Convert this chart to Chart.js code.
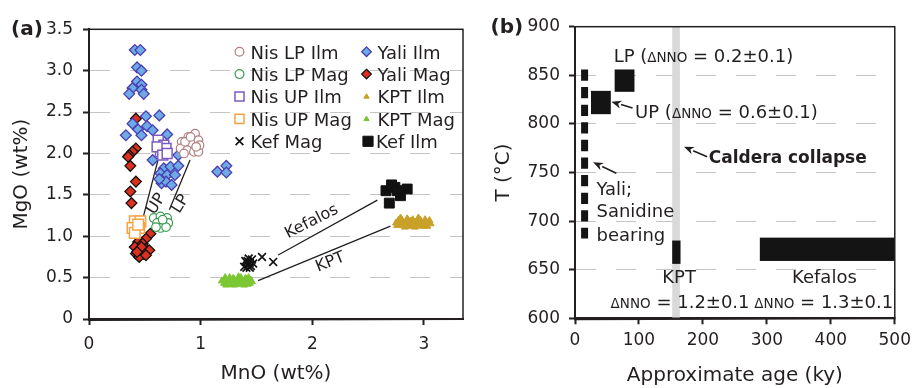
<!DOCTYPE html>
<html>
<head>
<meta charset="utf-8">
<script src="https://cdn.jsdelivr.net/npm/chart.js@4.4.0/dist/chart.umd.min.js"></script>
<style>
  body { margin: 0; background: #fff; }
  #wrap { position: relative; width: 917px; height: 388px; overflow: hidden; }
  canvas { position: absolute; top: 0; }
  #chartA { left: 0; }
  #chartB { left: 470px; }
</style>
</head>
<body>
<div id="wrap">
  <canvas id="chartA" width="472" height="388"></canvas>
  <canvas id="chartB" width="447" height="388"></canvas>
</div>
<script>
// ---------- panel (a): MnO vs MgO (wt%) ----------
const aXTicks = [0, 1, 2, 3];
const aYTicks = [0, 0.5, 1, 1.5, 2, 2.5, 3, 3.5];

const nisLpIlmMnO = [0.95, 0.89, 0.83, 0.92, 0.98, 0.82, 0.88, 0.94, 0.98, 0.99, 0.85, 0.86, 0.91, 0.96];
const nisLpIlmMgO = [2.24, 2.20, 2.14, 2.12, 2.16, 2.06, 2.04, 2.02, 2.02, 2.10, 2.00, 2.14, 2.20, 2.08];

const nisLpMagMnO = [0.58, 0.64, 0.70, 0.61, 0.67, 0.71, 0.64, 0.60, 0.69, 0.66];
const nisLpMagMgO = [1.22, 1.24, 1.22, 1.16, 1.16, 1.16, 1.10, 1.11, 1.11, 1.20];

const nisUpIlmMnO = [0.62, 0.67, 0.64, 0.69, 0.61, 0.66, 0.70];
const nisUpIlmMgO = [2.16, 2.10, 2.02, 2.06, 2.08, 1.98, 2.00];

const nisUpMagMnO = [0.41, 0.46, 0.39, 0.45, 0.41, 0.44];
const nisUpMagMgO = [1.18, 1.18, 1.10, 1.10, 1.04, 1.14];

const kefMagMnO = [1.40, 1.42, 1.44, 1.46, 1.41, 1.45, 1.43, 1.47, 1.39, 1.42, 1.44, 1.55, 1.65];
const kefMagMgO = [0.70, 0.66, 0.68, 0.72, 0.62, 0.64, 0.73, 0.67, 0.63, 0.70, 0.62, 0.75, 0.69];

const yaliIlmMnO = [0.41, 0.46, 0.43, 0.47, 0.43, 0.47, 0.39, 0.36, 0.47, 0.49,
  0.51, 0.63, 0.39, 0.44, 0.52, 0.57, 0.33, 0.47, 0.70,
  0.57, 0.80, 0.67, 0.73, 0.80, 0.64, 0.70, 0.77, 0.65, 0.69, 0.74, 0.63,
  1.15, 1.23, 1.23];
const yaliIlmMgO = [3.25, 3.25, 3.04, 3.00, 2.87, 2.83, 2.79, 2.72, 2.77, 2.72,
  2.45, 2.46, 2.36, 2.29, 2.33, 2.28, 2.22, 2.22, 2.23,
  1.92, 1.98, 1.82, 1.84, 1.85, 1.76, 1.74, 1.74, 1.64, 1.66, 1.62, 1.69,
  1.78, 1.85, 1.77];

const yaliMagMnO = [0.42, 0.42, 0.39, 0.36, 0.35, 0.37, 0.42, 0.37, 0.38,
  0.55, 0.51, 0.44, 0.48, 0.41, 0.51, 0.45, 0.54, 0.42, 0.49, 0.45, 0.51, 0.47, 0.43];
const yaliMagMgO = [2.42, 2.06, 2.02, 1.98, 1.96, 1.85, 1.66, 1.54, 1.40,
  1.03, 0.97, 0.93, 0.91, 0.87, 0.85, 0.83, 0.83, 0.79, 0.79, 0.75, 0.77, 0.87, 0.81];

const kptIlmMnO = [2.75, 2.77, 2.78, 2.80, 2.81, 2.82, 2.84, 2.85, 2.86, 2.87, 2.88, 2.90, 2.91, 2.92,
  2.93, 2.95, 2.96, 2.97, 2.98, 3.00, 3.01, 3.02, 3.03, 3.04, 3.06, 2.79, 2.83, 2.89, 2.94,
  2.99, 3.05, 2.76, 2.86, 2.92, 2.97, 3.02];
const kptIlmMgO = [1.16, 1.19, 1.14, 1.20, 1.17, 1.13, 1.18, 1.21, 1.15, 1.12, 1.18, 1.20, 1.15,
  1.14, 1.17, 1.22, 1.13, 1.19, 1.16, 1.15, 1.20, 1.17, 1.12, 1.17, 1.15, 1.22, 1.11, 1.14,
  1.19, 1.12, 1.19, 1.13, 1.19, 1.11, 1.14, 1.14];

const kptMagMnO = [1.19, 1.21, 1.22, 1.24, 1.25, 1.27, 1.28, 1.29, 1.31, 1.32, 1.33, 1.35, 1.36, 1.37,
  1.38, 1.40, 1.41, 1.42, 1.44, 1.45, 1.46, 1.26, 1.30, 1.39, 1.34, 1.23, 1.43, 1.22, 1.28,
  1.33, 1.37, 1.42, 1.30, 1.36, 1.25, 1.40];
const kptMagMgO = [0.46, 0.43, 0.48, 0.44, 0.47, 0.46, 0.42, 0.49, 0.45, 0.42, 0.47, 0.44, 0.50, 0.42,
  0.46, 0.43, 0.48, 0.45, 0.43, 0.47, 0.45, 0.50, 0.41, 0.41, 0.51, 0.41, 0.50, 0.50, 0.45,
  0.44, 0.47, 0.42, 0.48, 0.45, 0.42, 0.49];

const kefIlmMnO = [2.66, 2.74, 2.85, 2.79, 2.69, 2.71, 2.76];
const kefIlmMgO = [1.55, 1.59, 1.57, 1.49, 1.40, 1.62, 1.55];

// tie lines (melt pairs) and their labels
const tieNames = ['UP', 'LP', 'Kefalos', 'KPT'];
const tieMnO = [[0.48, 0.635], [0.72, 0.905], [1.695, 2.583], [1.515, 2.70]];
const tieMgO = [[1.20, 2.01], [1.32, 1.92], [0.773, 1.437], [0.463, 1.123]];

// ---------- panel (b): T vs approximate age ----------
const bXTicks = [0, 100, 200, 300, 400, 500];
const bYTicks = [600, 650, 700, 750, 800, 850, 900];

const yaliAge = [15, 15];
const yaliT = [856, 682];

const boxNames = ['LP', 'UP', 'KPT', 'Kefalos'];
const boxAgeMin = [62, 25, 152, 289];
const boxAgeMax = [93, 56, 165, 500];
const boxTMin = [833, 810, 656, 659];
const boxTMax = [856, 834, 680, 683];

const calderaAge = [152, 164];

// ---------- shared look ----------
const FONT = '"DejaVu Sans", "Liberation Sans", sans-serif';
const INK = '#231f20';
Chart.defaults.font.family = FONT;
Chart.defaults.color = INK;

const pts = (xs, ys) => xs.map((x, i) => ({x: x, y: ys[i]}));

const seriesA = [
  {label: 'Nis LP Ilm', x: nisLpIlmMnO, y: nisLpIlmMgO, style: 'circle', r: 4.3, fill: '#fff', stroke: '#b27e7e', bw: 1.2, col: 0, row: 0, lr: 4.4},
  {label: 'Nis LP Mag', x: nisLpMagMnO, y: nisLpMagMgO, style: 'circle', r: 4.3, fill: '#fff', stroke: '#3a9a52', bw: 1.2, col: 0, row: 1, lr: 4.4},
  {label: 'Nis UP Ilm', x: nisUpIlmMnO, y: nisUpIlmMgO, style: 'rect', r: 7, fill: '#fff', stroke: '#7a5cc4', bw: 1.5, col: 0, row: 2, lr: 6.4},
  {label: 'Nis UP Mag', x: nisUpMagMnO, y: nisUpMagMgO, style: 'rect', r: 7.5, fill: '#fff', stroke: '#f6a443', bw: 1.5, col: 0, row: 3, lr: 6.4},
  {label: 'Kef Mag', x: kefMagMnO, y: kefMagMgO, style: 'crossRot', r: 5.5, fill: '#111', stroke: '#111', bw: 1.7, col: 0, row: 4, lr: 5.5},
  {label: 'Yali Ilm', x: yaliIlmMnO, y: yaliIlmMgO, style: 'rectRot', r: 5.4, fill: '#6eaae4', stroke: '#4a3db2', bw: 1.3, col: 1, row: 0, lr: 4.8},
  {label: 'Yali Mag', x: yaliMagMnO, y: yaliMagMgO, style: 'rectRot', r: 5.4, fill: '#d9301f', stroke: '#111', bw: 1.3, col: 1, row: 1, lr: 4.8},
  {label: 'KPT Ilm', x: kptIlmMnO, y: kptIlmMgO, style: 'triangle', r: 4, fill: '#c9a128', stroke: '#c9a128', bw: 1, col: 1, row: 2, lr: 2.8},
  {label: 'KPT Mag', x: kptMagMnO, y: kptMagMgO, style: 'triangle', r: 4, fill: '#7cc734', stroke: '#7cc734', bw: 1, col: 1, row: 3, lr: 2.8},
  {label: 'Kef Ilm', x: kefIlmMnO, y: kefIlmMgO, style: 'rect', r: 7, fill: '#111', stroke: '#111', bw: 1, col: 1, row: 4, lr: 7.2}
];

function drawMarker(ctx, s, x, y, r) {
  ctx.save();
  ctx.fillStyle = s.fill;
  ctx.strokeStyle = s.stroke;
  ctx.lineWidth = s.bw;
  ctx.beginPath();
  if (s.style === 'circle') {
    ctx.arc(x, y, r, 0, Math.PI * 2);
  } else if (s.style === 'rect') {
    const h = r * Math.SQRT1_2;
    ctx.rect(x - h, y - h, 2 * h, 2 * h);
  } else if (s.style === 'rectRot') {
    ctx.moveTo(x, y - r); ctx.lineTo(x + r, y); ctx.lineTo(x, y + r); ctx.lineTo(x - r, y); ctx.closePath();
  } else if (s.style === 'triangle') {
    ctx.moveTo(x, y - r); ctx.lineTo(x + r * 0.95, y + r * 0.6); ctx.lineTo(x - r * 0.95, y + r * 0.6); ctx.closePath();
  } else if (s.style === 'crossRot') {
    const h = r * Math.SQRT1_2;
    ctx.moveTo(x - h, y - h); ctx.lineTo(x + h, y + h);
    ctx.moveTo(x + h, y - h); ctx.lineTo(x - h, y + h);
    ctx.stroke(); ctx.restore(); return;
  }
  ctx.fill();
  ctx.stroke();
  ctx.restore();
}

function drawFrame(chart) {
  const {ctx, chartArea: a} = chart;
  ctx.save();
  ctx.strokeStyle = INK;
  ctx.lineWidth = 1.5;
  ctx.strokeRect(a.left, a.top, a.right - a.left, a.bottom - a.top);
  ctx.lineWidth = 2;
  ctx.beginPath();
  ctx.moveTo(a.left, a.top - 0.75); ctx.lineTo(a.left, a.bottom + 1);
  ctx.lineTo(a.right + 0.75, a.bottom);
  ctx.stroke();
  ctx.restore();
}

function drawRuns(ctx, runs, x, y, align) {
  let total = 0;
  runs.forEach(r => { ctx.font = r[1]; total += ctx.measureText(r[0]).width; });
  let cx = align === 'center' ? x - total / 2 : x;
  ctx.textAlign = 'left';
  runs.forEach(r => { ctx.font = r[1]; ctx.fillText(r[0], cx, y); cx += ctx.measureText(r[0]).width; });
}

function drawArrow(ctx, x1, y1, x2, y2) {
  const ang = Math.atan2(y2 - y1, x2 - x1);
  const len = 10, half = 4;
  const bx = x2 - len * Math.cos(ang), by = y2 - len * Math.sin(ang);
  ctx.save();
  ctx.strokeStyle = INK; ctx.fillStyle = INK; ctx.lineWidth = 1.6;
  ctx.beginPath(); ctx.moveTo(x1, y1); ctx.lineTo(bx, by); ctx.stroke();
  ctx.beginPath();
  ctx.moveTo(x2, y2);
  ctx.lineTo(bx + half * Math.sin(ang), by - half * Math.cos(ang));
  ctx.lineTo(x2 - len * 0.7 * Math.cos(ang), y2 - len * 0.7 * Math.sin(ang));
  ctx.lineTo(bx - half * Math.sin(ang), by + half * Math.cos(ang));
  ctx.closePath(); ctx.fill();
  ctx.restore();
}

// ---------- chart (a) ----------
const aDatasets = seriesA.map(s => ({
  label: s.label,
  data: pts(s.x, s.y),
  pointStyle: s.style,
  pointRadius: s.r,
  pointBackgroundColor: s.fill,
  pointBorderColor: s.stroke,
  pointBorderWidth: s.bw,
  showLine: false
}));
tieNames.forEach((n, i) => {
  aDatasets.push({
    label: n + ' tie',
    data: pts(tieMnO[i], tieMgO[i]),
    showLine: true,
    borderColor: INK,
    borderWidth: 1.3,
    pointRadius: 0
  });
});

const tieLabelPlace = {
  UP: {x: 0.603, y: 1.39, rot: -58},
  LP: {x: 0.82, y: 1.39, rot: -58},
  Kefalos: {x: 1.995, y: 1.175, rot: -27},
  KPT: {x: 2.162, y: 0.685, rot: -22}
};

const panelAExtras = {
  id: 'panelAExtras',
  afterDraw(chart) {
    const {ctx, scales: {x, y}} = chart;
    drawFrame(chart);
    ctx.save();
    ctx.fillStyle = INK;
    // tie line labels
    ctx.font = '16px ' + FONT;
    ctx.textAlign = 'center';
    ctx.textBaseline = 'middle';
    tieNames.forEach(n => {
      const p = tieLabelPlace[n];
      ctx.save();
      ctx.translate(x.getPixelForValue(p.x), y.getPixelForValue(p.y));
      ctx.rotate(p.rot * Math.PI / 180);
      ctx.fillText(n, 0, 0);
      ctx.restore();
    });
    // legend, two columns
    const colMark = [239.5, 366.5], colText = [250.5, 377.5];
    ctx.textAlign = 'left';
    ctx.textBaseline = 'alphabetic';
    seriesA.forEach(s => {
      const base = 58.5 + s.row * 22.4;
      drawMarker(ctx, s, colMark[s.col] + (s.label === 'Kef Ilm' ? 1.5 : 0), base - 6.8, s.lr);
      ctx.fillStyle = INK;
      ctx.font = '18px ' + FONT;
      ctx.fillText(s.label, colText[s.col] - (s.label === 'Kef Ilm' ? 1.5 : 0), base);
    });
    // panel letter
    ctx.font = 'bold 20px ' + FONT;
    ctx.fillText('(a)', 11, 35);
    ctx.restore();
  }
};

new Chart(document.getElementById('chartA'), {
  type: 'scatter',
  data: {datasets: aDatasets},
  options: {
    responsive: false,
    animation: false,
    events: [],
    layout: {padding: {left: 0, top: 29.3, right: 4, bottom: 0}},
    plugins: {legend: {display: false}, tooltip: {enabled: false}},
    scales: {
      x: {
        type: 'linear', min: 0, max: 3.35,
        afterBuildTicks: s => { s.ticks = aXTicks.map(v => ({value: v})); },
        afterFit: s => { s.height = 69; },
        grid: {drawOnChartArea: false, tickLength: 6, tickColor: INK, tickWidth: 2},
        border: {color: INK, width: 2},
        ticks: {font: {size: 17}, color: INK, padding: 9, maxRotation: 0},
        title: {display: true, text: 'MnO (wt%)', font: {size: 20}, color: INK, padding: {top: 0, bottom: 2}}
      },
      y: {
        type: 'linear', min: 0, max: 3.5,
        afterBuildTicks: s => { s.ticks = aYTicks.map(v => ({value: v})); },
        afterFit: s => { s.width = 89; },
        grid: {color: '#c4c4c4', lineWidth: 1, tickLength: 6, tickColor: INK, tickWidth: 2},
        border: {color: INK, width: 2, dash: [20, 20]},
        ticks: {font: {size: 17}, color: INK, padding: 10},
        title: {display: true, text: 'MgO (wt%)', font: {size: 20}, color: INK, padding: {top: 10, bottom: 0}}
      }
    }
  },
  plugins: [panelAExtras]
});

// ---------- chart (b) ----------
const panelBShapes = {
  id: 'panelBShapes',
  beforeDatasetsDraw(chart) {
    const {ctx, chartArea: a, scales: {x, y}} = chart;
    ctx.save();
    ctx.fillStyle = '#d9d9d9';
    const c0 = x.getPixelForValue(calderaAge[0]), c1 = x.getPixelForValue(calderaAge[1]);
    ctx.fillRect(c0, a.top, c1 - c0, a.bottom - a.top);
    ctx.fillStyle = '#141414';
    boxNames.forEach((n, i) => {
      const x0 = x.getPixelForValue(boxAgeMin[i]), x1 = x.getPixelForValue(boxAgeMax[i]);
      const y0 = y.getPixelForValue(boxTMax[i]), y1 = y.getPixelForValue(boxTMin[i]);
      ctx.fillRect(x0, y0, x1 - x0, y1 - y0);
    });
    ctx.restore();
  },
  afterDraw(chart) {
    const {ctx, scales: {x, y}} = chart;
    const px = v => x.getPixelForValue(v), py = v => y.getPixelForValue(v);
    drawFrame(chart);
    ctx.save();
    ctx.fillStyle = INK;
    ctx.textBaseline = 'alphabetic';
    const big = '18px ' + FONT, small = '13.5px ' + FONT;
    drawRuns(ctx, [['LP (', big], ['\u0394NNO', small], [' = 0.2\u00b10.1)', big]], px(60.4), py(864), 'left');
    drawRuns(ctx, [['UP (', big], ['\u0394NNO', small], [' = 0.6\u00b10.1)', big]], px(94), py(805.7), 'left');
    drawArrow(ctx, px(90), py(816.4), px(56.9), py(822.8));
    drawRuns(ctx, [['Caldera collapse', 'bold 17px ' + FONT]], px(209.2), py(759.5), 'left');
    drawArrow(ctx, px(206.5), py(766.3), px(170.4), py(776.5));
    ctx.font = big;
    ctx.textAlign = 'left';
    ctx.fillText('Yali;', px(33.6), py(726.9));
    ctx.fillText('Sanidine', px(33.6), py(704.6));
    ctx.fillText('bearing', px(33.6), py(679.8));
    drawArrow(ctx, px(64.6), py(749.2), px(28.4), py(760.5));
    drawRuns(ctx, [['KPT', big]], px(162.7), py(636), 'center');
    drawRuns(ctx, [['Kefalos', big]], px(390), py(636), 'center');
    drawRuns(ctx, [['\u0394NNO', small], [' = 1.2\u00b10.1', big]], px(164.3), py(610.9), 'center');
    drawRuns(ctx, [['\u0394NNO', small], [' = 1.3\u00b10.1', big]], px(389), py(610.9), 'center');
    ctx.font = 'bold 20px ' + FONT;
    ctx.textAlign = 'left';
    ctx.fillText('(b)', 20.5, 33.3);
    ctx.restore();
  }
};

new Chart(document.getElementById('chartB'), {
  type: 'scatter',
  data: {
    datasets: [{
      label: 'Yali',
      data: pts(yaliAge, yaliT),
      showLine: true,
      borderColor: '#141414',
      borderWidth: 7,
      borderDash: [11.3, 6.3],
      borderCapStyle: 'butt',
      pointRadius: 0
    }]
  },
  options: {
    responsive: false,
    animation: false,
    events: [],
    layout: {padding: {left: 0, top: 26.7, right: 19.3, bottom: 0}},
    plugins: {legend: {display: false}, tooltip: {enabled: false}},
    scales: {
      x: {
        type: 'linear', min: 0, max: 500,
        afterBuildTicks: s => { s.ticks = bXTicks.map(v => ({value: v})); },
        afterFit: s => { s.height = 69.7; },
        grid: {drawOnChartArea: false, tickLength: 6, tickColor: INK, tickWidth: 2},
        border: {color: INK, width: 2},
        ticks: {font: {size: 17}, color: INK, padding: 6, maxRotation: 0},
        title: {display: true, text: 'Approximate age (ky)', font: {size: 20}, color: INK, padding: {top: 0, bottom: 0}}
      },
      y: {
        type: 'linear', min: 600, max: 900,
        afterBuildTicks: s => { s.ticks = bYTicks.map(v => ({value: v})); },
        afterFit: s => { s.width = 105; },
        grid: {color: '#c4c4c4', lineWidth: 1, tickLength: 6, tickColor: INK, tickWidth: 2},
        border: {color: INK, width: 2, dash: [20, 20]},
        ticks: {font: {size: 17}, color: INK, padding: 9},
        title: {display: true, text: 'T (\u00b0C)', font: {size: 20}, color: INK, padding: {top: 22, bottom: 0}}
      }
    }
  },
  plugins: [panelBShapes]
});
</script>
</body>
</html>
